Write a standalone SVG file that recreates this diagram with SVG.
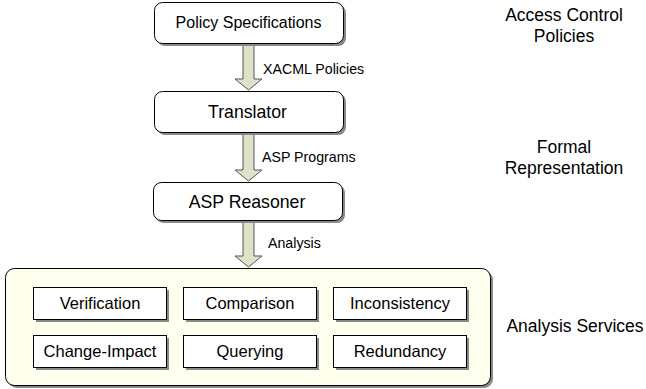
<svg xmlns="http://www.w3.org/2000/svg" width="646" height="389" viewBox="0 0 646 389">
<style>
text{font-family:"Liberation Sans",Arial,sans-serif;fill:#000}
.box{fill:#fff;stroke:#000;stroke-width:1}
.shadow{fill:#888}
.arrow{fill:#dfe2c8;stroke:#555;stroke-width:1}
.t16{font-size:16px;text-anchor:middle}
.t18{font-size:17.7px;text-anchor:middle}
.t14{font-size:16.5px;text-anchor:middle}
.t13{font-size:14.2px}
.side{font-size:17.5px;text-anchor:middle}
</style>
<rect x="0" y="0" width="646" height="389" fill="#fff"/>
<g id="connectors">
<polygon class="arrow" points="243,45 254,45 254,79 262,79 248.5,90 235,79 243,79"/>
<polygon class="arrow" points="243,134 254,134 254,170 262,170 248.5,181 235,170 243,170"/>
<polygon class="arrow" points="243,222 254,222 254,256 262,256 248.5,267 235,256 243,256"/>
<text class="t13" x="263" y="74">XACML Policies</text>
<text class="t13" x="262" y="162">ASP Programs</text>
<text class="t13" x="268" y="248">Analysis</text>
</g>
<g id="policy-specifications">
<rect class="shadow" x="157" y="5" width="189" height="41" rx="8"/>
<rect class="box" x="154.5" y="2.5" width="189" height="41" rx="8"/>
<text class="t16" x="248.5" y="28">Policy Specifications</text>
</g>
<g id="translator">
<rect class="shadow" x="157" y="94" width="189" height="41" rx="8"/>
<rect class="box" x="154.5" y="91.5" width="189" height="41" rx="8"/>
<text class="t18" x="247.5" y="118">Translator</text>
</g>
<g id="asp-reasoner">
<rect class="shadow" x="156" y="185" width="189" height="38" rx="8"/>
<rect class="box" x="153.5" y="182.5" width="189" height="38" rx="8"/>
<text class="t18" x="247" y="208">ASP Reasoner</text>
</g>
<g id="analysis-services">
<rect class="shadow" x="8" y="271" width="485" height="117" rx="9"/>
<rect x="5.5" y="268.5" width="485" height="117" rx="9" fill="#ffffee" stroke="#000"/>
</g>
<g id="verification">
<rect class="shadow" x="36" y="290" width="133" height="32"/>
<rect class="box" x="33.5" y="287.5" width="133" height="32"/>
<text class="t14" x="100" y="309">Verification</text>
</g>
<g id="comparison">
<rect class="shadow" x="186" y="290" width="133" height="32"/>
<rect class="box" x="183.5" y="287.5" width="133" height="32"/>
<text class="t14" x="250" y="309">Comparison</text>
</g>
<g id="inconsistency">
<rect class="shadow" x="336" y="290" width="133" height="32"/>
<rect class="box" x="333.5" y="287.5" width="133" height="32"/>
<text class="t14" x="400" y="309">Inconsistency</text>
</g>
<g id="change-impact">
<rect class="shadow" x="36" y="338" width="133" height="32"/>
<rect class="box" x="33.5" y="335.5" width="133" height="32"/>
<text class="t14" x="100" y="357">Change-Impact</text>
</g>
<g id="querying">
<rect class="shadow" x="186" y="338" width="133" height="32"/>
<rect class="box" x="183.5" y="335.5" width="133" height="32"/>
<text class="t14" x="250" y="357">Querying</text>
</g>
<g id="redundancy">
<rect class="shadow" x="336" y="338" width="133" height="32"/>
<rect class="box" x="333.5" y="335.5" width="133" height="32"/>
<text class="t14" x="400" y="357">Redundancy</text>
</g>
<g id="labels">
<text class="side" x="564" y="21">Access Control</text>
<text class="side" x="564" y="42">Policies</text>
<text class="side" x="564" y="153">Formal</text>
<text class="side" x="564" y="174">Representation</text>
<text class="side" x="575" y="332">Analysis Services</text>
</g>
</svg>
